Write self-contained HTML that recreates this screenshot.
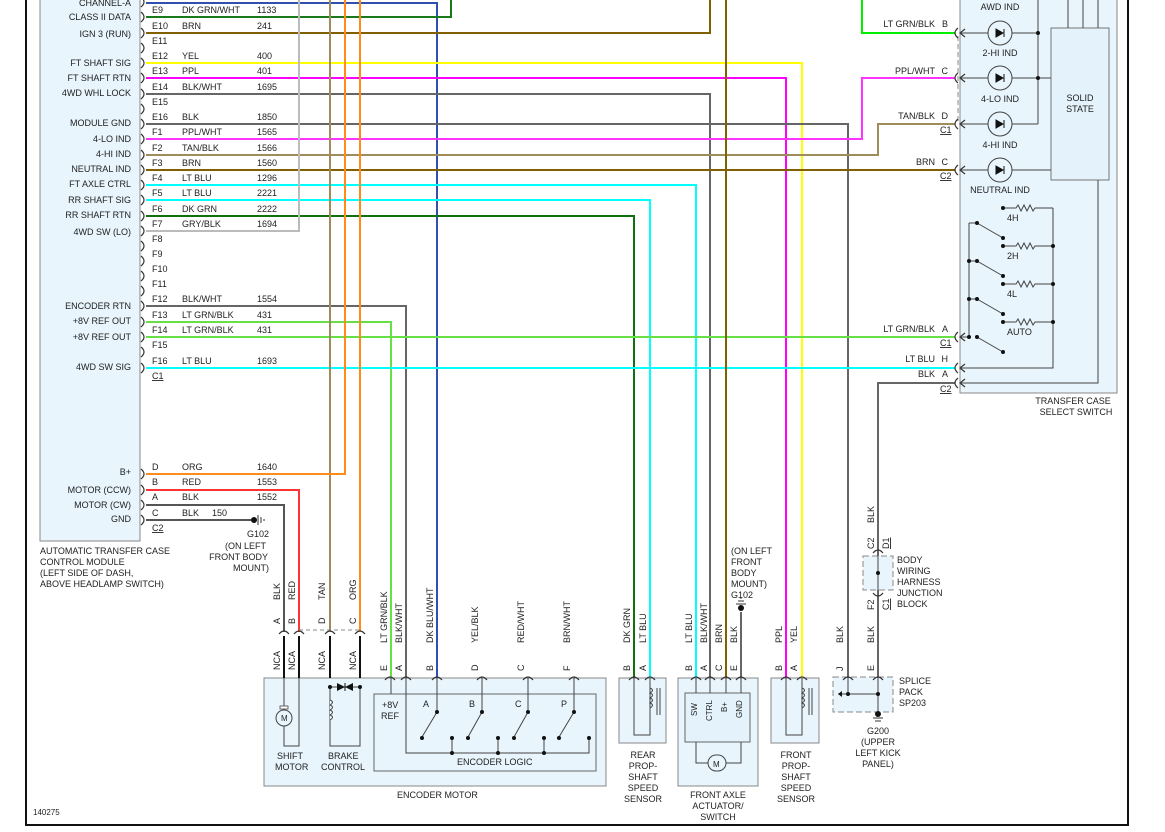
<!DOCTYPE html>
<html><head><meta charset="utf-8">
<style>
html,body{margin:0;padding:0;background:#fff;}
svg{display:block;}
text{font-family:"Liberation Sans",sans-serif;font-size:9px;fill:#222;}
.w{fill:none;stroke-width:2;}
.k{fill:none;stroke:#333;stroke-width:1.2;}
.b{fill:none;stroke:#444;stroke-width:1;}
</style></head><body>
<svg width="1165" height="832" viewBox="0 0 1165 832" xmlns="http://www.w3.org/2000/svg">
<!-- frame -->
<line x1="26" y1="0" x2="26" y2="826" stroke="#111" stroke-width="2"/>
<line x1="1128" y1="0" x2="1128" y2="826" stroke="#111" stroke-width="2"/>
<line x1="26" y1="825" x2="1128" y2="825" stroke="#111" stroke-width="2"/>
<text x="33" y="815" style="font-size:8px">140275</text>

<!-- module box -->
<rect x="40" y="-2" width="100" height="543" fill="#e8f5fd" stroke="#888" stroke-width="1"/>
<!-- transfer case box -->
<rect x="960" y="-2" width="157" height="395" fill="#e8f5fd" stroke="#888" stroke-width="1"/>
<rect x="1051" y="28" width="58" height="152" fill="#e3f2fb" stroke="#777" stroke-width="1"/>
<!-- bottom boxes -->
<rect x="264" y="678" width="342" height="108" fill="#e8f5fd" stroke="#888"/>
<rect x="374" y="694" width="222" height="77" fill="#e8f5fd" stroke="#666"/>
<rect x="619" y="678" width="47" height="65" fill="#e8f5fd" stroke="#888"/>
<rect x="678" y="678" width="80" height="108" fill="#e8f5fd" stroke="#888"/>
<rect x="685" y="693" width="65" height="49" fill="#e3f2fb" stroke="#666"/>
<rect x="771" y="678" width="48" height="65" fill="#e8f5fd" stroke="#888"/>
<rect x="833" y="677" width="60" height="35" fill="#e8f5fd" stroke="#888" stroke-dasharray="6,3"/>
<rect x="863" y="556" width="30" height="34" fill="#e8f5fd" stroke="#888" stroke-dasharray="6,3"/>

<!-- wires -->
<path class="w" stroke="#3050b0" d="M146,3 H437 V678"/>
<path class="w" stroke="#1a7a1a" d="M146,17 H451 V0"/>
<path class="w" stroke="#806000" d="M146,33 H710 V0"/>
<path class="w" stroke="#ffff00" d="M146,63 H802 V678"/>
<path class="w" stroke="#ff00ff" d="M146,78 H786 V678"/>
<path class="w" stroke="#666" d="M146,94 H710 V678"/>
<path class="w" stroke="#666" d="M146,124 H848 V678"/>
<path class="w" stroke="#ff33ff" stroke-width="1.5" d="M146,139 H862 V78 H955"/>
<path class="w" stroke="#a08c5a" d="M146,155 H878 V124 H955"/>
<path class="w" stroke="#806000" d="M146,170 H955"/>
<path class="w" stroke="#00ffff" d="M146,185 H696 V678"/>
<path class="w" stroke="#00ffff" d="M146,200 H650 V678"/>
<path class="w" stroke="#107010" d="M146,216 H634 V678"/>
<path class="w" stroke="#bbb" d="M146,231 H299 V0"/>
<path class="w" stroke="#666" d="M146,306 H406 V678"/>
<path class="w" stroke="#66e044" d="M146,322 H391 V678"/>
<path class="w" stroke="#66e044" d="M146,337 H955"/>
<path class="w" stroke="#00ffff" d="M146,368 H955"/>
<path class="w" stroke="#00ee00" d="M955,33 H862 V0"/>
<path class="w" stroke="#a08c5a" d="M330,0 V632"/>
<path class="w" stroke="#ff8c1a" d="M146,474 H345 V0"/>
<path class="w" stroke="#ff8c1a" d="M360,0 V632"/>
<path class="w" stroke="#806000" d="M726,0 V678"/>
<path class="w" stroke="#ff3333" d="M146,490 H299 V632"/>
<path class="w" stroke="#555" d="M146,505 H284 V632"/>
<path class="w" stroke="#555" d="M146,520 H252"/>
<path class="w" stroke="#666" d="M955,383 H878 V556 M878,590 V678"/>
<path class="w" stroke="#666" d="M741,612 V678"/>
<path class="w" stroke="#666" d="M878,712 V714"/>
<!-- black NCA wires -->
<path stroke="#111" stroke-width="2" fill="none" d="M284,636 V678 M299,636 V678 M330,636 V678 M360,636 V678"/>
<line x1="299" y1="630" x2="360" y2="630" stroke="#888" stroke-dasharray="4,3"/>
<line x1="958" y1="36" x2="958" y2="122" stroke="#888" stroke-dasharray="5,3"/>

<!-- module connector marks -->
<g class="k" stroke="#333">
<path d="M141,-3 q6,5 0,10"/>
<path d="M141,12 q6,5 0,10"/><path d="M141,28 q6,5 0,10"/><path d="M141,43 q6,5 0,10"/>
<path d="M141,58 q6,5 0,10"/><path d="M141,73 q6,5 0,10"/><path d="M141,89 q6,5 0,10"/>
<path d="M141,104 q6,5 0,10"/><path d="M141,119 q6,5 0,10"/><path d="M141,134 q6,5 0,10"/>
<path d="M141,150 q6,5 0,10"/><path d="M141,165 q6,5 0,10"/><path d="M141,180 q6,5 0,10"/>
<path d="M141,195 q6,5 0,10"/><path d="M141,211 q6,5 0,10"/><path d="M141,226 q6,5 0,10"/>
<path d="M141,241 q6,5 0,10"/><path d="M141,256 q6,5 0,10"/><path d="M141,271 q6,5 0,10"/>
<path d="M141,286 q6,5 0,10"/><path d="M141,301 q6,5 0,10"/><path d="M141,317 q6,5 0,10"/>
<path d="M141,332 q6,5 0,10"/><path d="M141,347 q6,5 0,10"/><path d="M141,363 q6,5 0,10"/>
<path d="M141,469 q6,5 0,10"/><path d="M141,485 q6,5 0,10"/><path d="M141,500 q6,5 0,10"/><path d="M141,515 q6,5 0,10"/>
</g>
<!-- switch connector marks -->
<g class="k">
<path d="M958,28 q-6,5 0,10 M965,29 l-5,4 l5,4"/>
<path d="M958,73 q-6,5 0,10 M965,74 l-5,4 l5,4"/>
<path d="M958,119 q-6,5 0,10 M965,120 l-5,4 l5,4"/>
<path d="M958,165 q-6,5 0,10 M965,166 l-5,4 l5,4"/>
<path d="M958,332 q-6,5 0,10 M965,333 l-5,4 l5,4"/>
<path d="M958,363 q-6,5 0,10 M965,364 l-5,4 l5,4"/>
<path d="M958,378 q-6,5 0,10 M965,379 l-5,4 l5,4"/>
</g>
<!-- bottom connector marks -->
<g class="k">
<path d="M279,634 q5,-6 10,0 M294,634 q5,-6 10,0 M325,634 q5,-6 10,0 M355,634 q5,-6 10,0"/>
<path d="M385,680 q5,-6 10,0 M401,680 q5,-6 10,0 M432,680 q5,-6 10,0 M477,680 q5,-6 10,0 M523,680 q5,-6 10,0 M569,680 q5,-6 10,0"/>
<path d="M629,680 q5,-6 10,0 M645,680 q5,-6 10,0 M691,680 q5,-6 10,0 M705,680 q5,-6 10,0 M721,680 q5,-6 10,0 M736,680 q5,-6 10,0"/>
<path d="M781,680 q5,-6 10,0 M797,680 q5,-6 10,0 M843,680 q5,-6 10,0 M873,680 q5,-6 10,0"/>
<path d="M873,553 q5,-6 10,0 M873,593 q5,6 10,0"/>
</g>

<!-- module labels -->
<g text-anchor="end">
<text x="131" y="6">CHANNEL-A</text>
<text x="131" y="20">CLASS II DATA</text>
<text x="131" y="37">IGN 3 (RUN)</text>
<text x="131" y="66">FT SHAFT SIG</text>
<text x="131" y="81">FT SHAFT RTN</text>
<text x="131" y="96">4WD WHL LOCK</text>
<text x="131" y="126">MODULE GND</text>
<text x="131" y="142">4-LO IND</text>
<text x="131" y="157">4-HI IND</text>
<text x="131" y="172">NEUTRAL IND</text>
<text x="131" y="187">FT AXLE CTRL</text>
<text x="131" y="203">RR SHAFT SIG</text>
<text x="131" y="218">RR SHAFT RTN</text>
<text x="131" y="235">4WD SW (LO)</text>
<text x="131" y="309">ENCODER RTN</text>
<text x="131" y="324">+8V REF OUT</text>
<text x="131" y="340">+8V REF OUT</text>
<text x="131" y="370">4WD SW SIG</text>
<text x="131" y="475">B+</text>
<text x="131" y="493">MOTOR (CCW)</text>
<text x="131" y="508">MOTOR (CW)</text>
<text x="131" y="522">GND</text>
</g>
<!-- pin rows -->
<g>
<text x="152" y="13">E9</text><text x="182" y="13">DK GRN/WHT</text><text x="257" y="13">1133</text>
<text x="152" y="29">E10</text><text x="182" y="29">BRN</text><text x="257" y="29">241</text>
<text x="152" y="44">E11</text>
<text x="152" y="59">E12</text><text x="182" y="59">YEL</text><text x="257" y="59">400</text>
<text x="152" y="74">E13</text><text x="182" y="74">PPL</text><text x="257" y="74">401</text>
<text x="152" y="90">E14</text><text x="182" y="90">BLK/WHT</text><text x="257" y="90">1695</text>
<text x="152" y="105">E15</text>
<text x="152" y="120">E16</text><text x="182" y="120">BLK</text><text x="257" y="120">1850</text>
<text x="152" y="135">F1</text><text x="182" y="135">PPL/WHT</text><text x="257" y="135">1565</text>
<text x="152" y="151">F2</text><text x="182" y="151">TAN/BLK</text><text x="257" y="151">1566</text>
<text x="152" y="166">F3</text><text x="182" y="166">BRN</text><text x="257" y="166">1560</text>
<text x="152" y="181">F4</text><text x="182" y="181">LT BLU</text><text x="257" y="181">1296</text>
<text x="152" y="196">F5</text><text x="182" y="196">LT BLU</text><text x="257" y="196">2221</text>
<text x="152" y="212">F6</text><text x="182" y="212">DK GRN</text><text x="257" y="212">2222</text>
<text x="152" y="227">F7</text><text x="182" y="227">GRY/BLK</text><text x="257" y="227">1694</text>
<text x="152" y="242">F8</text><text x="152" y="257">F9</text><text x="152" y="272">F10</text><text x="152" y="287">F11</text>
<text x="152" y="302">F12</text><text x="182" y="302">BLK/WHT</text><text x="257" y="302">1554</text>
<text x="152" y="318">F13</text><text x="182" y="318">LT GRN/BLK</text><text x="257" y="318">431</text>
<text x="152" y="333">F14</text><text x="182" y="333">LT GRN/BLK</text><text x="257" y="333">431</text>
<text x="152" y="348">F15</text>
<text x="152" y="364">F16</text><text x="182" y="364">LT BLU</text><text x="257" y="364">1693</text>
<text x="152" y="379" text-decoration="underline">C1</text>
<text x="152" y="470">D</text><text x="182" y="470">ORG</text><text x="257" y="470">1640</text>
<text x="152" y="485">B</text><text x="182" y="485">RED</text><text x="257" y="485">1553</text>
<text x="152" y="500">A</text><text x="182" y="500">BLK</text><text x="257" y="500">1552</text>
<text x="152" y="516">C</text><text x="182" y="516">BLK</text><text x="212" y="516">150</text>
<text x="152" y="531" text-decoration="underline">C2</text>
</g>
<!-- G102 near module -->
<circle cx="254" cy="520" r="3" fill="#111"/>
<path d="M258,515 V525 M261,517 V523 M264,519 V521" stroke="#333"/>
<g text-anchor="end">
<text x="269" y="537">G102</text>
<text x="266" y="549">(ON LEFT</text>
<text x="268" y="560">FRONT BODY</text>
<text x="269" y="571">MOUNT)</text>
</g>
<text x="40" y="554">AUTOMATIC TRANSFER CASE</text>
<text x="40" y="565">CONTROL MODULE</text>
<text x="40" y="576">(LEFT SIDE OF DASH,</text>
<text x="40" y="587">ABOVE HEADLAMP SWITCH)</text>

<!-- bottom rotated labels -->
<g>
<text transform="translate(280,600) rotate(-90)">BLK</text>
<text transform="translate(295,600) rotate(-90)">RED</text>
<text transform="translate(325,600) rotate(-90)">TAN</text>
<text transform="translate(356,600) rotate(-90)">ORG</text>
<text transform="translate(280,624) rotate(-90)">A</text>
<text transform="translate(295,624) rotate(-90)">B</text>
<text transform="translate(325,624) rotate(-90)">D</text>
<text transform="translate(356,624) rotate(-90)">C</text>
<text transform="translate(280,670) rotate(-90)">NCA</text>
<text transform="translate(295,670) rotate(-90)">NCA</text>
<text transform="translate(325,670) rotate(-90)">NCA</text>
<text transform="translate(356,670) rotate(-90)">NCA</text>
<text transform="translate(387,643) rotate(-90)">LT GRN/BLK</text>
<text transform="translate(402,643) rotate(-90)">BLK/WHT</text>
<text transform="translate(433,643) rotate(-90)">DK BLU/WHT</text>
<text transform="translate(478,643) rotate(-90)">YEL/BLK</text>
<text transform="translate(524,643) rotate(-90)">RED/WHT</text>
<text transform="translate(570,643) rotate(-90)">BRN/WHT</text>
<text transform="translate(630,643) rotate(-90)">DK GRN</text>
<text transform="translate(646,643) rotate(-90)">LT BLU</text>
<text transform="translate(692,643) rotate(-90)">LT BLU</text>
<text transform="translate(707,643) rotate(-90)">BLK/WHT</text>
<text transform="translate(722,643) rotate(-90)">BRN</text>
<text transform="translate(737,643) rotate(-90)">BLK</text>
<text transform="translate(782,643) rotate(-90)">PPL</text>
<text transform="translate(797,643) rotate(-90)">YEL</text>
<text transform="translate(843,643) rotate(-90)">BLK</text>
<text transform="translate(874,643) rotate(-90)">BLK</text>
<text transform="translate(874,523) rotate(-90)">BLK</text>
<text transform="translate(874,549) rotate(-90)">C2</text>
<text transform="translate(889,549) rotate(-90)" text-decoration="underline">D1</text>
<text transform="translate(874,610) rotate(-90)">F2</text>
<text transform="translate(889,610) rotate(-90)" text-decoration="underline">C1</text>
<g>
<text transform="translate(387,671) rotate(-90)">E</text>
<text transform="translate(402,671) rotate(-90)">A</text>
<text transform="translate(433,671) rotate(-90)">B</text>
<text transform="translate(478,671) rotate(-90)">D</text>
<text transform="translate(524,671) rotate(-90)">C</text>
<text transform="translate(570,671) rotate(-90)">F</text>
<text transform="translate(630,671) rotate(-90)">B</text>
<text transform="translate(646,671) rotate(-90)">A</text>
<text transform="translate(692,671) rotate(-90)">B</text>
<text transform="translate(707,671) rotate(-90)">A</text>
<text transform="translate(722,671) rotate(-90)">C</text>
<text transform="translate(737,671) rotate(-90)">E</text>
<text transform="translate(782,671) rotate(-90)">B</text>
<text transform="translate(797,671) rotate(-90)">A</text>
<text transform="translate(843,671) rotate(-90)">J</text>
<text transform="translate(874,671) rotate(-90)">E</text>
</g>
</g>

<!-- shift motor -->
<path class="b" d="M284,678 V746 H299 V678"/>
<circle cx="284" cy="718" r="8" fill="#e8f5fd" stroke="#444"/>
<rect x="280" y="706" width="8" height="3" fill="#fff" stroke="#444" stroke-width=".8"/>
<text x="281" y="721" style="font-size:8px">M</text>
<!-- brake -->
<path class="b" d="M330,687 V746 H360 V687 M330,687 H360"/>
<path d="M330,700 q5,2 0,5 q5,2 0,5 q5,2 0,5 q5,2 0,5" fill="#e8f5fd" stroke="#444"/>
<circle cx="330" cy="687" r="2" fill="#111"/><circle cx="360" cy="687" r="2" fill="#111"/>
<path d="M337,683 L345,687 L337,691 Z M353,683 L345,687 L353,691Z" fill="#111"/>
<path d="M345,683 V691" stroke="#111"/>
<text x="277" y="759">SHIFT</text><text x="275" y="770">MOTOR</text>
<text x="328" y="759">BRAKE</text><text x="321" y="770">CONTROL</text>
<!-- encoder logic -->
<path class="b" d="M391,678 V694 M406,678 V753 H589 V738 M437,678 V712 M482,678 V712 M528,678 V712 M574,678 V712 M452,738 V753 M498,738 V753 M544,738 V753"/>
<path class="b" d="M437,712 L422,737 M482,712 L468,737 M528,712 L514,737 M574,712 L559,737"/>
<g fill="#111">
<circle cx="437" cy="712" r="2"/><circle cx="482" cy="712" r="2"/><circle cx="528" cy="712" r="2"/><circle cx="574" cy="712" r="2"/>
<circle cx="422" cy="738" r="2"/><circle cx="468" cy="738" r="2"/><circle cx="514" cy="738" r="2"/><circle cx="559" cy="738" r="2"/>
<circle cx="452" cy="738" r="2"/><circle cx="498" cy="738" r="2"/><circle cx="544" cy="738" r="2"/><circle cx="589" cy="738" r="2"/>
<circle cx="452" cy="753" r="2"/><circle cx="498" cy="753" r="2"/><circle cx="544" cy="753" r="2"/>
</g>
<text x="382" y="708">+8V</text><text x="381" y="719">REF</text>
<text x="423" y="707">A</text><text x="469" y="707">B</text><text x="515" y="707">C</text><text x="561" y="707">P</text>
<text x="457" y="765">ENCODER LOGIC</text>
<text x="397" y="798">ENCODER MOTOR</text>
<!-- rear sensor -->
<path class="b" d="M634,678 V735 H650 V678"/>
<path d="M650,688 q5,2 0,5 q5,2 0,5 q5,2 0,5 q5,2 0,5" fill="none" stroke="#444"/>
<path d="M657,688 V715 M660,688 V715" stroke="#444"/>
<g text-anchor="middle">
<text x="643" y="758">REAR</text><text x="643" y="769">PROP-</text><text x="643" y="780">SHAFT</text><text x="643" y="791">SPEED</text><text x="643" y="802">SENSOR</text>
</g>
<!-- front axle -->
<path class="b" d="M696,678 V693 M710,678 V693 M726,678 V693 M741,678 V693 M696,742 V763 H708 M726,763 H741 V742"/>
<rect x="708" y="755" width="18" height="16" rx="8" fill="#e8f5fd" stroke="#444"/>
<text x="713" y="767" style="font-size:8px">M</text>
<text transform="translate(697,716) rotate(-90)" style="font-size:8px">SW</text>
<text transform="translate(712,721) rotate(-90)" style="font-size:8px">CTRL</text>
<text transform="translate(727,712) rotate(-90)" style="font-size:8px">B+</text>
<text transform="translate(742,718) rotate(-90)" style="font-size:8px">GND</text>
<g text-anchor="middle">
<text x="718" y="798">FRONT AXLE</text><text x="718" y="809">ACTUATOR/</text><text x="718" y="820">SWITCH</text>
</g>
<!-- G102 axle -->
<circle cx="741" cy="608" r="3" fill="#111"/>
<path d="M736,604 H746 M738,601 H744 M740,598 H742" stroke="#333"/>
<text x="731" y="554">(ON LEFT</text><text x="731" y="565">FRONT</text><text x="731" y="576">BODY</text><text x="731" y="587">MOUNT)</text><text x="731" y="598">G102</text>
<!-- front prop -->
<path class="b" d="M786,678 V735 H802 V678"/>
<path d="M802,688 q5,2 0,5 q5,2 0,5 q5,2 0,5 q5,2 0,5" fill="none" stroke="#444"/>
<path d="M809,688 V715 M812,688 V715" stroke="#444"/>
<g text-anchor="middle">
<text x="796" y="758">FRONT</text><text x="796" y="769">PROP-</text><text x="796" y="780">SHAFT</text><text x="796" y="791">SPEED</text><text x="796" y="802">SENSOR</text>
</g>
<!-- splice -->
<path class="b" d="M848,678 V694 M878,678 V714 M838,694 H878"/>
<circle cx="848" cy="694" r="2" fill="#111"/><circle cx="878" cy="694" r="2" fill="#111"/>
<path d="M838,694 l4,-3 v6z" fill="#111"/>
<circle cx="878" cy="714" r="3" fill="#111"/>
<path d="M873,718 H883 M875,721 H881" stroke="#333"/>
<text x="899" y="684">SPLICE</text><text x="899" y="695">PACK</text><text x="899" y="706">SP203</text>
<g text-anchor="middle">
<text x="878" y="734">G200</text><text x="878" y="745">(UPPER</text><text x="878" y="756">LEFT KICK</text><text x="878" y="767">PANEL)</text>
</g>
<!-- junction -->
<path class="b" d="M878,556 V590"/>
<circle cx="878" cy="573" r="2" fill="#111"/>
<text x="897" y="563">BODY</text><text x="897" y="574">WIRING</text><text x="897" y="585">HARNESS</text><text x="897" y="596">JUNCTION</text><text x="897" y="607">BLOCK</text>

<!-- switch side labels -->
<g text-anchor="end">
<text x="935" y="27">LT GRN/BLK</text><text x="948" y="27">B</text>
<text x="935" y="74">PPL/WHT</text><text x="948" y="74">C</text>
<text x="935" y="119">TAN/BLK</text><text x="948" y="119">D</text>
<text x="935" y="165">BRN</text><text x="948" y="165">C</text>
<text x="935" y="332">LT GRN/BLK</text><text x="948" y="332">A</text>
<text x="935" y="362">LT BLU</text><text x="948" y="362">H</text>
<text x="935" y="377">BLK</text><text x="948" y="377">A</text>
</g>
<text x="940" y="133" text-decoration="underline">C1</text>
<text x="940" y="179" text-decoration="underline">C2</text>
<text x="940" y="346" text-decoration="underline">C1</text>
<text x="940" y="392" text-decoration="underline">C2</text>
<!-- LEDs -->
<path class="b" d="M960,33 H1038 M960,78 H1051 M960,124 H1038 M960,170 H1051 M1038,-2 V124 M1068,-2 V28 M1083,-2 V28 M1098,-2 V28 M1098,180 V383 H960"/>
<circle cx="1038" cy="33" r="2" fill="#111"/><circle cx="1038" cy="78" r="2" fill="#111"/>
<g fill="#e8f5fd" stroke="#444">
<circle cx="1000" cy="33" r="12"/><circle cx="1000" cy="78" r="12"/><circle cx="1000" cy="124" r="12"/><circle cx="1000" cy="170" r="12"/>
</g>
<g fill="#111" stroke="#111">
<path d="M996,29 L1003,33 L996,37Z M1004,29 V37"/>
<path d="M996,74 L1003,78 L996,82Z M1004,74 V82"/>
<path d="M996,120 L1003,124 L996,128Z M1004,120 V128"/>
<path d="M996,166 L1003,170 L996,174Z M1004,166 V174"/>
</g>
<g text-anchor="middle">
<text x="1000" y="10">AWD IND</text>
<text x="1000" y="56">2-HI IND</text>
<text x="1000" y="102">4-LO IND</text>
<text x="1000" y="148">4-HI IND</text>
<text x="1000" y="193">NEUTRAL IND</text>
<text x="1080" y="101">SOLID</text><text x="1080" y="112">STATE</text>
<text x="1073" y="404">TRANSFER CASE</text><text x="1076" y="415">SELECT SWITCH</text>
</g>
<!-- resistor network -->
<path class="b" d="M1053,208 V368 H960 M969,223 V337 H960 M969,223 H977 M969,261 H977 M969,299 H977"/>
<path class="b" d="M1003,208 H1016 l2,-3 l3,6 l3,-6 l3,6 l3,-6 l3,6 l2,-3 H1053"/>
<path class="b" d="M1003,246 H1016 l2,-3 l3,6 l3,-6 l3,6 l3,-6 l3,6 l2,-3 H1053"/>
<path class="b" d="M1003,284 H1016 l2,-3 l3,6 l3,-6 l3,6 l3,-6 l3,6 l2,-3 H1053"/>
<path class="b" d="M1003,322 H1016 l2,-3 l3,6 l3,-6 l3,6 l3,-6 l3,6 l2,-3 H1053"/>
<path class="b" d="M977,223 L1003,238 M977,261 L1003,276 M977,299 L1003,314 M977,337 L1003,352"/>
<g fill="#111">
<circle cx="1003" cy="208" r="2"/><circle cx="1003" cy="246" r="2"/><circle cx="1003" cy="284" r="2"/><circle cx="1003" cy="322" r="2"/>
<circle cx="1003" cy="238" r="2"/><circle cx="1003" cy="276" r="2"/><circle cx="1003" cy="314" r="2"/><circle cx="1003" cy="352" r="2"/>
<circle cx="977" cy="223" r="2"/><circle cx="977" cy="261" r="2"/><circle cx="977" cy="299" r="2"/><circle cx="977" cy="337" r="2"/>
<circle cx="969" cy="261" r="2"/><circle cx="969" cy="299" r="2"/><circle cx="969" cy="337" r="2"/>
<circle cx="1053" cy="246" r="2"/><circle cx="1053" cy="284" r="2"/><circle cx="1053" cy="322" r="2"/>
</g>
<text x="1007" y="221">4H</text><text x="1007" y="259">2H</text><text x="1007" y="297">4L</text><text x="1007" y="335">AUTO</text>
</svg>
</body></html>
